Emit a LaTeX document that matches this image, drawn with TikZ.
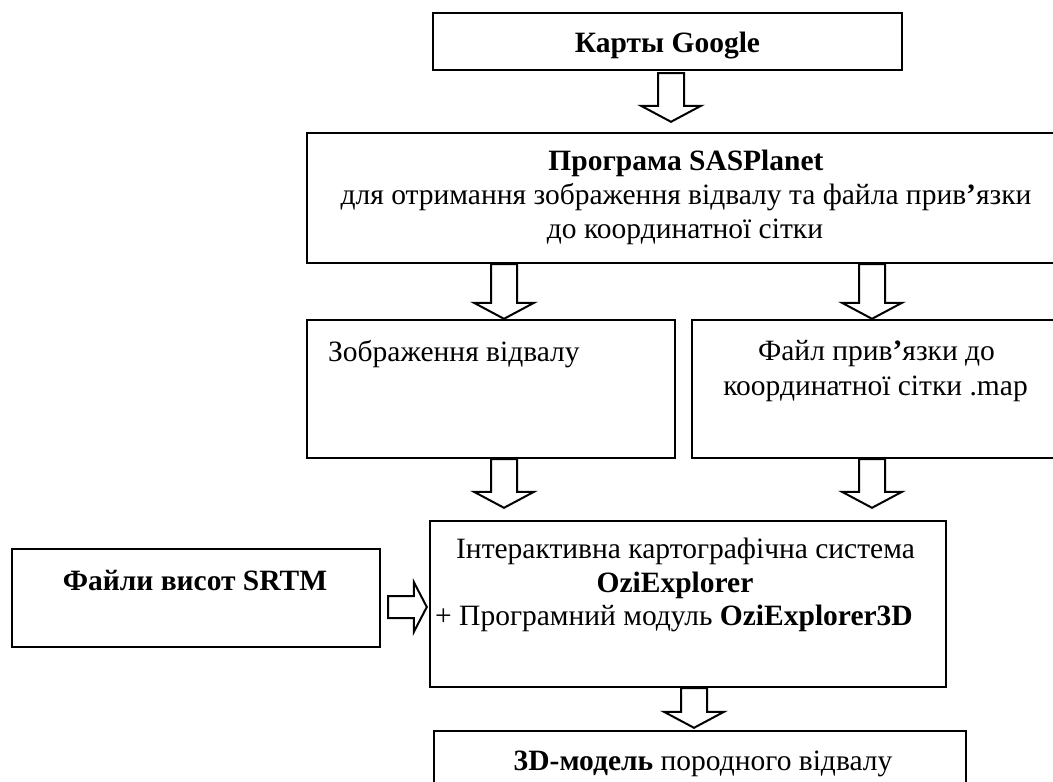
\documentclass[tikz,border=0pt]{standalone}
\usepackage{fontspec}
\setmainfont{Liberation Serif}
\usetikzlibrary{calc}
\newcommand{\vblock}[5]{%
  \draw[blk] let \p1=(#2.south), \p2=(#3.north), \p3=(#1,0) in
    ({\x3-13},{\y1-#4}) -- ({\x3-13},{\y2+#5+16}) -- ({\x3-30},{\y2+#5+16}) --
    ({\x3},{\y2+#5}) -- ({\x3+30},{\y2+#5+16}) -- ({\x3+13},{\y2+#5+16}) --
    ({\x3+13},{\y1-#4}) -- cycle;}
\begin{document}
\begin{tikzpicture}[x=1pt,y=-1pt,
  box/.style={draw,line width=2.4pt,inner sep=0pt,rectangle},
  blk/.style={draw,line width=2pt,fill=white,line join=miter},
  txt/.style={inner sep=0pt,font=\fontsize{29.5}{36}\selectfont}]
\clip (0,0) rectangle (1053,782);
\fill[white] (0,0) rectangle (1053,782);
% boxes
\node[box,minimum width=469pt,minimum height=57pt] (google) at (667.5,41.5) {};
\node[box,minimum width=758pt,minimum height=130pt] (sas) at (686,198) {};
\node[box,minimum width=368pt,minimum height=138pt] (img) at (491,389) {};
\node[box,minimum width=368pt,minimum height=138pt] (mapf) at (876,389) {};
\node[box,minimum width=516pt,minimum height=166pt] (ozi) at (688,604) {};
\node[box,minimum width=368pt,minimum height=98pt] (srtm) at (196,598) {};
\node[box,minimum width=532pt,minimum height=138pt] (model) at (700,800) {};
% texts
\node[txt,anchor=base] (tgoogle) at (667.5,52) {\bfseries Карты Google};
\node[txt,anchor=base] (tsas1) at (686,170) {\bfseries Програма SASPlanet};
\node[txt,anchor=base] (tsas2) at (686,204) {для отримання зображення відвалу та файла прив{\bfseries ’}язки};
\node[txt,anchor=base] (tsas3) at (685,238) {до координатної сітки};
\node[txt,anchor=base west] (timg) at (328,361) {Зображення відвалу};
\node[txt,anchor=base] (tmap1) at (876.5,360) {Файл прив{\bfseries ’}язки до};
\node[txt,anchor=base] (tmap2) at (875.5,395) {координатної сітки .map};
\node[txt,anchor=base] (tozi1) at (685.5,558) {Інтерактивна картографічна система};
\node[txt,anchor=base] (tozi2) at (675,592) {\bfseries OziExplorer};
\node[txt,anchor=base west] (tozi3) at (435,625) {+ Програмний модуль \textbf{OziExplorer3D}};
\node[txt,anchor=base] (tsrtm) at (195,590) {\bfseries Файли висот SRTM};
\node[txt,anchor=base] (tmodel) at (703,770) {\textbf{3D-модель} породного відвалу};
% block arrows
\vblock{671}{google}{sas}{2}{10}
\vblock{504}{sas}{img}{0}{0}
\vblock{872}{sas}{mapf}{0}{0}
\vblock{504}{img}{ozi}{0}{12}
\vblock{872}{mapf}{ozi}{0}{12}
\vblock{694}{ozi}{model}{0}{2}
\draw[blk] let \p1=(srtm.east), \p2=(ozi.west), \p3=(0,607) in
  ({\x1+7},{\y3+11}) -- ({\x2-15},{\y3+11}) -- ({\x2-15},{\y3+25}) --
  ({\x2-2},{\y3}) -- ({\x2-15},{\y3-25}) -- ({\x2-15},{\y3-11}) --
  ({\x1+7},{\y3-11}) -- cycle;
\end{tikzpicture}
\end{document}
